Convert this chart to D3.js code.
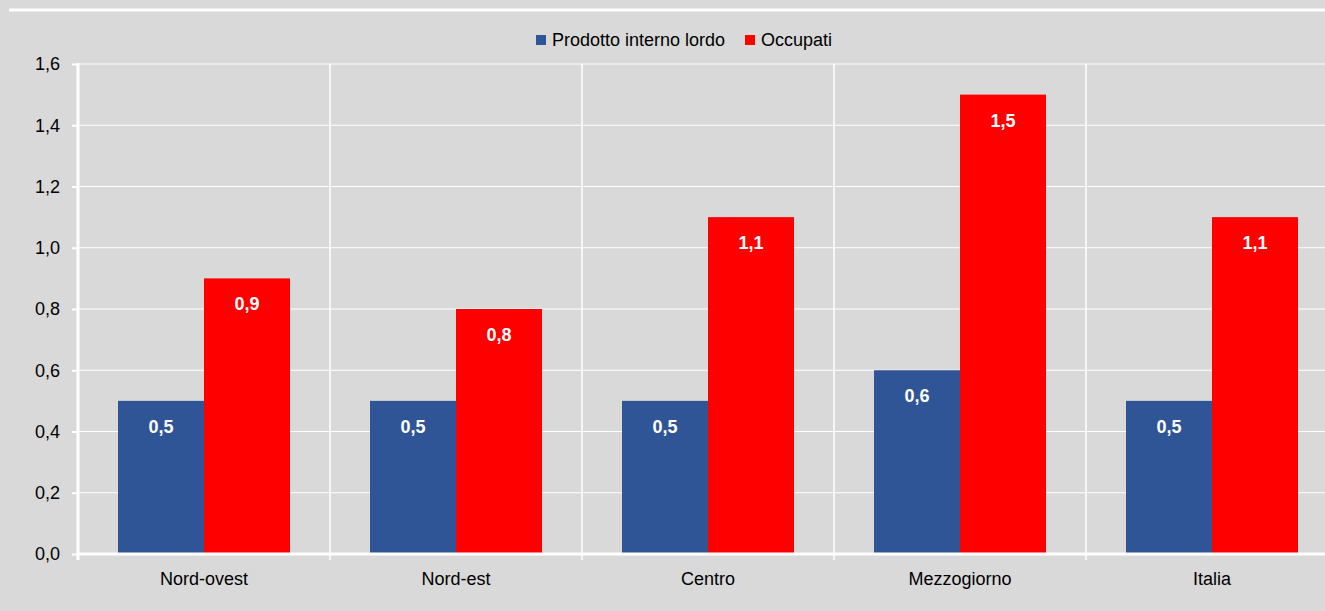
<!DOCTYPE html>
<html>
<head>
<meta charset="utf-8">
<script src="https://cdn.jsdelivr.net/npm/d3@7"></script>
<style>
  body { margin: 0; background: #d9d9d9; }
  svg { display: block; font-family: "Liberation Sans Narrow", "Arial Narrow", "Liberation Sans", Arial, sans-serif; }
</style>
</head>
<body>
<svg id="chart" width="1325" height="611"></svg>
<script>
var categories = ["Nord-ovest", "Nord-est", "Centro", "Mezzogiorno", "Italia"];
var seriesNames = ["Prodotto interno lordo", "Occupati"];
var pil = [0.5, 0.5, 0.5, 0.6, 0.5];
var occupati = [0.9, 0.8, 1.1, 1.5, 1.1];
var yTicks = [0, 0.2, 0.4, 0.6, 0.8, 1.0, 1.2, 1.4, 1.6];
var colors = ["#2f5597", "#ff0000"];

var svg = d3.select("#chart");
var margin = {top: 64, left: 78},
    width = 252 * categories.length,
    height = 490;

svg.append("rect").attr("width", 1325).attr("height", 611).attr("fill", "#d9d9d9");
// top white rule
svg.append("line").attr("x1", 9).attr("x2", 1325).attr("y1", 10).attr("y2", 10)
    .attr("stroke", "#fff").attr("stroke-width", 3);

var g = svg.append("g").attr("transform", "translate(" + margin.left + "," + margin.top + ")");

var x = d3.scaleBand().domain(categories).range([0, width]).paddingInner(0).paddingOuter(0);
var y = d3.scaleLinear().domain([0, 1.6]).range([height, 0]);
var fmt = function(v) { return d3.format(".1f")(v).replace(".", ","); };

// gridlines
g.selectAll(".grid").data(yTicks.slice(1)).enter().append("line")
    .attr("x1", 0).attr("x2", width)
    .attr("y1", function(d) { return y(d); }).attr("y2", function(d) { return y(d); })
    .attr("stroke", "#fff").attr("stroke-width", 1);

// category separators
g.selectAll(".sep").data(categories.slice(1)).enter().append("line")
    .attr("x1", function(d) { return x(d); }).attr("x2", function(d) { return x(d); })
    .attr("y1", 0).attr("y2", height + 6)
    .attr("stroke", "#fff").attr("stroke-width", 1.5);

var barW = 86;
var data = [];
categories.forEach(function(c, i) {
    data.push({cat: c, s: 0, v: pil[i]});
    data.push({cat: c, s: 1, v: occupati[i]});
});

g.selectAll(".bar").data(data).enter().append("rect")
    .attr("x", function(d) { return x(d.cat) + x.bandwidth() / 2 - barW + d.s * barW; })
    .attr("y", function(d) { return y(d.v); })
    .attr("width", barW)
    .attr("height", function(d) { return height - y(d.v); })
    .attr("fill", function(d) { return colors[d.s]; });

g.selectAll(".lbl").data(data).enter().append("text")
    .attr("x", function(d) { return x(d.cat) + x.bandwidth() / 2 - barW / 2 + d.s * barW; })
    .attr("y", function(d) { return y(d.v) + 32; })
    .attr("text-anchor", "middle")
    .attr("fill", "#fff").attr("font-weight", "bold").attr("font-size", 18)
    .text(function(d) { return fmt(d.v); });

// y axis
var yAxis = g.append("g").call(d3.axisLeft(y).tickValues(yTicks).tickFormat(fmt).tickSize(6).tickPadding(12));
yAxis.select(".domain").attr("stroke", "#fff").attr("stroke-width", 3).attr("d", "M0,-1V" + (height + 6));
yAxis.selectAll(".tick line").attr("stroke", "#fff").attr("stroke-width", 2);
yAxis.selectAll(".tick text").attr("font-size", 18).attr("fill", "#000");

// x axis
var xAxis = g.append("g").attr("transform", "translate(0," + height + ")")
    .call(d3.axisBottom(x).tickSize(0).tickPadding(18));
xAxis.select(".domain").attr("stroke", "#fff").attr("stroke-width", 3).attr("d", "M0,0H" + width);
xAxis.selectAll(".tick text").attr("font-size", 18).attr("fill", "#000");

// legend
var legend = svg.append("g").attr("transform", "translate(536,40)");
var lx = [0, 209];
seriesNames.forEach(function(n, i) {
    legend.append("rect").attr("x", lx[i]).attr("y", -5).attr("width", 10).attr("height", 10).attr("fill", colors[i]);
    legend.append("text").attr("x", lx[i] + 16).attr("y", 0).attr("dy", "0.35em")
        .attr("font-size", 18).attr("fill", "#000").text(n);
});
</script>
</body>
</html>
